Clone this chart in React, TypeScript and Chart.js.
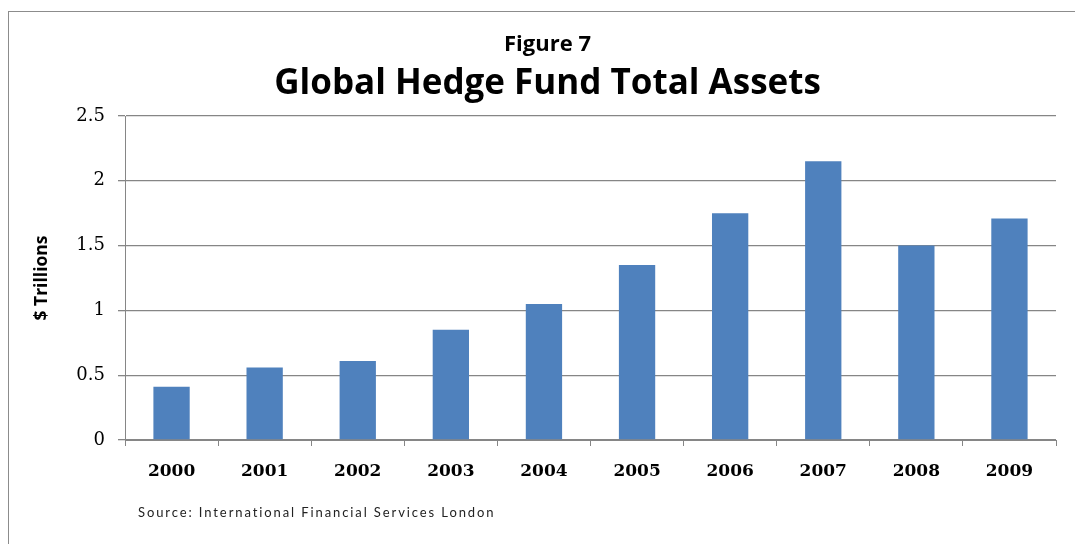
import React, { useEffect, useRef } from "react";
import { Chart, registerables } from "chart.js";

Chart.register(...registerables);

const categories = ["2000", "2001", "2002", "2003", "2004", "2005", "2006", "2007", "2008", "2009"];
const assets = [0.41, 0.56, 0.61, 0.85, 1.05, 1.35, 1.75, 2.15, 1.5, 1.71];
const yTicks = [0, 0.5, 1, 1.5, 2, 2.5];
const figureLabel = "Figure 7";
const chartTitle = "Global Hedge Fund Total Assets";
const yAxisTitle = "$ Trillions";
const sourceText = "Source: International Financial Services London";

const sansFont = "'Open Sans', Lato, sans-serif";
const serifFont = "'DejaVu Serif', 'Liberation Serif', serif";

const sourcePlugin = {
  id: "sourceNote",
  afterDraw(chart: any) {
    const ctx = chart.ctx;
    ctx.save();
    ctx.font = `13px Lato, sans-serif`;
    ctx.fillStyle = "#222";
    ctx.textAlign = "left";
    ctx.textBaseline = "middle";
    try {
      (ctx as any).letterSpacing = "1.9px";
    } catch (e) {}
    ctx.fillText(sourceText, 129, 501);
    ctx.restore();
  },
};

export default function App() {
  const canvasRef = useRef<HTMLCanvasElement | null>(null);

  useEffect(() => {
    document.body.style.overflow = "hidden";
    const canvas = canvasRef.current;
    if (!canvas) return;
    const chart = new Chart(canvas, {
      type: "bar",
      data: {
        labels: categories,
        datasets: [
          {
            label: "Total Assets",
            data: assets,
            backgroundColor: "#4F81BD",
            borderWidth: 0,
            categoryPercentage: 1,
            barPercentage: 0.39,
          },
        ],
      },
      options: {
        responsive: false,
        animation: false,
        layout: { padding: { left: 30, right: 19, top: 0, bottom: 44 } },
        plugins: {
          legend: { display: false },
          tooltip: { enabled: false },
          title: {
            display: true,
            text: figureLabel,
            color: "#000",
            font: { family: sansFont, size: 22, weight: "bold", lineHeight: 1.2 },
            padding: { top: 20, bottom: 0 },
          },
          subtitle: {
            display: true,
            text: chartTitle,
            color: "#000",
            font: { family: sansFont, size: 35, weight: "bold", lineHeight: 1.2 },
            padding: { top: 5, bottom: 10.6 },
          },
        },
        scales: {
          x: {
            grid: {
              offset: true,
              drawOnChartArea: false,
              drawTicks: true,
              tickLength: 6,
              color: "#868686",
            },
            border: { display: true, color: "#868686", width: 1 },
            ticks: {
              color: "#000",
              font: { family: serifFont, size: 17, weight: "bold" },
              padding: 15,
              maxRotation: 0,
            },
            afterFit(scale: any) {
              scale.height = 60;
            },
          },
          y: {
            min: 0,
            max: 2.5,
            afterBuildTicks(scale: any) {
              scale.ticks = yTicks.map((v) => ({ value: v }));
            },
            grid: {
              color: "#868686",
              lineWidth: 1.3,
              drawTicks: true,
              tickLength: 7,
            },
            border: { display: true, color: "#868686", width: 1 },
            ticks: {
              color: "#000",
              font: { family: serifFont, size: 18 },
              padding: 13,
              callback: (v: any) => String(v),
            },
            title: {
              display: true,
              text: yAxisTitle,
              color: "#000",
              font: { family: sansFont, size: 17.5, weight: "bold" },
              padding: { top: -7, bottom: 0 },
            },
            afterFit(scale: any) {
              scale.width = 86;
            },
          },
        },
      },
      plugins: [sourcePlugin],
    });
    return () => chart.destroy();
  }, []);

  return (
    <div
      style={{
        position: "absolute",
        left: 8,
        top: 11,
        width: 1066,
        height: 532,
        borderLeft: "1px solid #8c8c8c",
        borderTop: "1px solid #8c8c8c",
        background: "#fff",
      }}
    >
      <canvas ref={canvasRef} width={1066} height={532} style={{ display: "block" }} />
    </div>
  );
}
